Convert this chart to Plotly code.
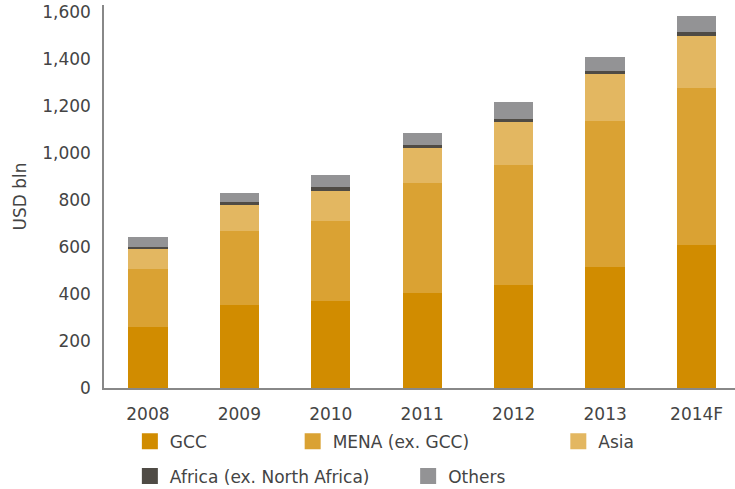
import plotly.graph_objects as go

years = ["2008", "2009", "2010", "2011", "2012", "2013", "2014F"]
gcc = [261, 353, 371, 403, 438, 514, 609]
mena = [244, 316, 340, 471, 512, 623, 666]
asia = [85, 110, 127, 146, 181, 199, 223]
africa = [11, 12, 17, 14, 15, 14, 15]
others = [43, 39, 51, 52, 70, 60, 70]

series = [
    ("GCC", gcc, "#D18C00", "legend"),
    ("MENA (ex. GCC)", mena, "#DAA233", "legend2"),
    ("Asia", asia, "#E3B761", "legend3"),
    ("Africa (ex. North Africa)", africa, "#4F4B45", "legend4"),
    ("Others", others, "#939395", "legend5"),
]

FONT = "DejaVu Sans"
TXT = "#444444"

fig = go.Figure()
for name, vals, color, lg in series:
    fig.add_trace(go.Bar(
        x=years, y=vals, name=name, legend=lg, showlegend=False,
        marker=dict(color=color, line=dict(width=0)),
        width=0.43,
    ))
# legend entries with larger square swatches
for name, vals, color, lg in series:
    fig.add_trace(go.Scatter(
        x=[None], y=[None], mode="markers", name=name, legend=lg, showlegend=True,
        marker=dict(symbol="square", size=20, color=color, line=dict(width=0)),
    ))

def leg(x, y):
    return dict(x=x, y=y, xanchor="left", yanchor="middle", xref="paper", yref="paper",
                orientation="h", bgcolor="rgba(0,0,0,0)", borderwidth=0,
                font=dict(family=FONT, size=17, color=TXT))

fig.update_layout(
    barmode="stack",
    width=735, height=489,
    margin=dict(l=104, r=0, t=5, b=101, autoexpand=False),
    paper_bgcolor="white", plot_bgcolor="white",
    font=dict(family=FONT, size=17, color=TXT),
    showlegend=True,
    legend=leg(0.041, -0.140),
    legend2=leg(0.299, -0.140),
    legend3=leg(0.720, -0.140),
    legend4=leg(0.041, -0.231),
    legend5=leg(0.482, -0.231),
    xaxis=dict(
        type="category", range=[-0.48, 6.42], automargin=False,
        showline=True, linecolor="#888888", linewidth=1.5,
        showgrid=False, zeroline=False,
        ticks="outside", ticklen=10, tickcolor="rgba(0,0,0,0)",
        tickfont=dict(family=FONT, size=17, color=TXT),
    ),
    yaxis=dict(
        range=[0, 1630], automargin=False,
        tickvals=[0, 200, 400, 600, 800, 1000, 1200, 1400, 1600],
        tickformat=",",
        showline=True, linecolor="#888888", linewidth=1.5,
        showgrid=False, zeroline=False,
        ticks="outside", ticklen=8, tickcolor="rgba(0,0,0,0)",
        tickfont=dict(family=FONT, size=17, color=TXT),
        title=dict(text="USD bln", standoff=11, font=dict(family=FONT, size=17, color=TXT)),
    ),
)

fig.write_html("out.html", config={"displayModeBar": False},
               post_script="document.body.style.margin='0';document.body.style.overflow='hidden';")
